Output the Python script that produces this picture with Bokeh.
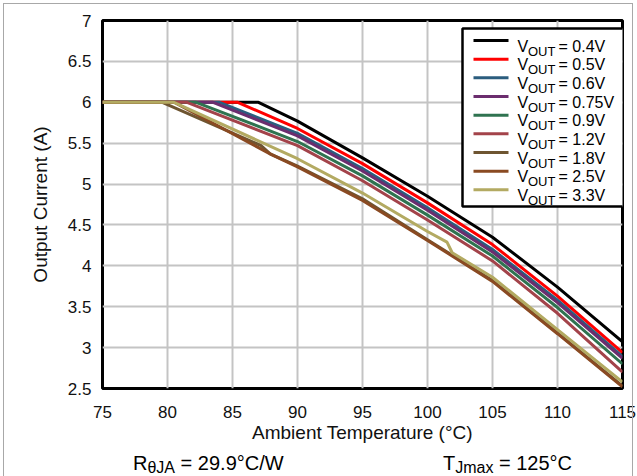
from bokeh.plotting import figure
from bokeh.models import Range1d, FixedTicker, Label, BoxAnnotation, Div
from bokeh.layouts import column
from bokeh.embed import file_html
from bokeh.resources import INLINE

# ---------------- data ----------------
vout_labels = ["0.4V", "0.5V", "0.6V", "0.75V", "0.9V", "1.2V", "1.8V", "2.5V", "3.3V"]

temp_04 = [75, 87.0, 90, 95, 100, 105, 110, 115]
curr_04 = [6, 6, 5.77, 5.32, 4.85, 4.35, 3.74, 3.07]

temp_05 = [75, 85.4, 90, 95, 100, 105, 110, 115]
curr_05 = [6, 6, 5.68, 5.25, 4.77, 4.26, 3.63, 2.94]

temp_06 = [75, 84.0, 90, 95, 100, 105, 110, 115]
curr_06 = [6, 6, 5.62, 5.19, 4.71, 4.20, 3.58, 2.89]

temp_075 = [75, 83.5, 90, 95, 100, 105, 110, 115]
curr_075 = [6, 6, 5.59, 5.16, 4.68, 4.17, 3.55, 2.87]

temp_09 = [75, 82.2, 90, 95, 100, 105, 110, 115]
curr_09 = [6, 6, 5.52, 5.10, 4.62, 4.12, 3.49, 2.80]

temp_12 = [75, 81.5, 90, 95, 100, 105, 110, 115]
curr_12 = [6, 6, 5.47, 5.04, 4.56, 4.06, 3.42, 2.70]

temp_18 = [75, 79.6, 87.2, 87.9, 90, 95, 100, 105, 110, 115]
curr_18 = [6, 6, 5.47, 5.37, 5.22, 4.82, 4.32, 3.82, 3.18, 2.53]

temp_25 = [75, 80.5, 88, 90, 95, 100, 105, 110, 115]
curr_25 = [6, 6, 5.36, 5.21, 4.80, 4.31, 3.81, 3.17, 2.52]

temp_33 = [75, 80.5, 90, 95, 100, 101.5, 101.9, 105, 110, 115]
curr_33 = [6, 6, 5.31, 4.89, 4.42, 4.29, 4.16, 3.86, 3.22, 2.58]

x_ticks = [75, 80, 85, 90, 95, 100, 105, 110, 115]
y_ticks = [2.5, 3, 3.5, 4, 4.5, 5, 5.5, 6, 6.5, 7]
y_tick_labels = ["2.5", "3", "3.5", "4", "4.5", "5", "5.5", "6", "6.5", "7"]

note_r = ("R", "θJA", " = 29.9°C/W")
note_t = ("T", "Jmax", " = 125°C")

colors = ["#000000", "#ff0000", "#2b5d7e", "#6b2d6e", "#2f7350",
          "#a3434a", "#6e5531", "#8a4a22", "#b3aa62"]

series = [
    (temp_04, curr_04), (temp_05, curr_05), (temp_06, curr_06),
    (temp_075, curr_075), (temp_09, curr_09), (temp_12, curr_12),
    (temp_18, curr_18), (temp_25, curr_25), (temp_33, curr_33),
]

FONT = "Liberation Sans"

# ---------------- figure ----------------
FIG_H = 452
p = figure(width=637, height=FIG_H,
           x_range=Range1d(75, 115), y_range=Range1d(2.5, 7),
           output_backend="svg", toolbar_location=None,
           min_border_left=102, min_border_right=15,
           min_border_top=20, min_border_bottom=FIG_H - 388)
p.title = None
p.background_fill_color = "white"
p.border_fill_color = "white"
p.outline_line_color = "black"
p.outline_line_width = 3

p.xaxis.ticker = FixedTicker(ticks=x_ticks)
p.yaxis.ticker = FixedTicker(ticks=y_ticks)
p.yaxis.major_label_overrides = {t: l for t, l in zip(y_ticks, y_tick_labels)}

for ax in (p.xaxis, p.yaxis):
    ax.axis_line_color = None
    ax.major_tick_line_color = None
    ax.minor_tick_line_color = None
    ax.major_label_text_font = FONT
    ax.major_label_text_font_size = "17px"
    ax.major_label_text_color = "#111111"
    ax.axis_label_text_font = FONT
    ax.axis_label_text_font_size = "19px"
    ax.axis_label_text_font_style = "normal"
    ax.axis_label_text_color = "#111111"

p.xaxis.axis_label = "Ambient Temperature (°C)"
p.yaxis.axis_label = "Output Current (A)"
p.xaxis.major_label_standoff = 11
p.xaxis.axis_label_standoff = 1
p.yaxis.major_label_standoff = 5
p.yaxis.axis_label_standoff = 14

p.xgrid.ticker = FixedTicker(ticks=x_ticks)
p.ygrid.ticker = FixedTicker(ticks=y_ticks)
for g in (p.xgrid, p.ygrid):
    g.grid_line_color = "#c4c4c4"
    g.grid_line_width = 2

for (tx, cy), c in zip(series, colors):
    p.line(tx, cy, line_color=c, line_width=3)

# ---------------- layout helpers (pixel -> data, reference page coords) ----------------
def X(px):
    return 75 + (px - 102) / 13.0

def Y(py):
    return 7 - (py - 20) / 81.78

# legend box
p.add_layout(BoxAnnotation(left=X(462), right=X(626), top=Y(28), bottom=Y(206),
                           fill_color="white", fill_alpha=1.0,
                           line_color="black", line_width=2.5, line_alpha=1.0))
for k, (lab, c) in enumerate(zip(vout_labels, colors)):
    cy = 40 + 18.67 * k
    p.add_layout(BoxAnnotation(left=X(473), right=X(508), top=Y(cy - 1.5), bottom=Y(cy + 1.5),
                               fill_color=c, fill_alpha=1.0, line_color=None))
    base = cy + 5.8
    p.add_layout(Label(x=X(517), y=Y(base), text="V", text_font=FONT,
                       text_font_size="16px", text_baseline="alphabetic", text_color="black"))
    p.add_layout(Label(x=X(527.5), y=Y(base + 5), text="OUT", text_font=FONT,
                       text_font_size="13px", text_baseline="alphabetic", text_color="black"))
    p.add_layout(Label(x=X(558), y=Y(base), text="= " + lab, text_font=FONT,
                       text_font_size="16px", text_baseline="alphabetic", text_color="black"))

# ---------------- bottom notes (HTML, with subscripts) ----------------
def note_html(left, parts):
    main, sub, rest = parts
    return ('<span style="position:absolute;left:%dpx;top:1px;font-size:20px;line-height:20px;'
            'white-space:nowrap;">%s<span style="font-size:16px;position:relative;top:3px;">%s</span>%s</span>'
            % (left, main, sub, rest))

DIV_H = 476 - FIG_H
frame_box = ('<div style="position:absolute;left:3px;top:%dpx;width:630px;height:%dpx;'
             'box-sizing:border-box;border:1px solid #a8a8a8;border-bottom:none;'
             'pointer-events:none;"></div>' % (3 - FIG_H, 476 - 3))
html = ('<div style="position:relative;width:637px;height:%dpx;'
        'font-family:\'Liberation Sans\',Arial,sans-serif;color:#000;">' % DIV_H
        + note_html(133, note_r) + note_html(443, note_t) + frame_box + '</div>')
notes = Div(text=html, width=637, height=DIV_H, margin=(0, 0, 0, 0))

layout = column(p, notes, spacing=0)

open("out.html", "w").write(file_html(layout, INLINE))
